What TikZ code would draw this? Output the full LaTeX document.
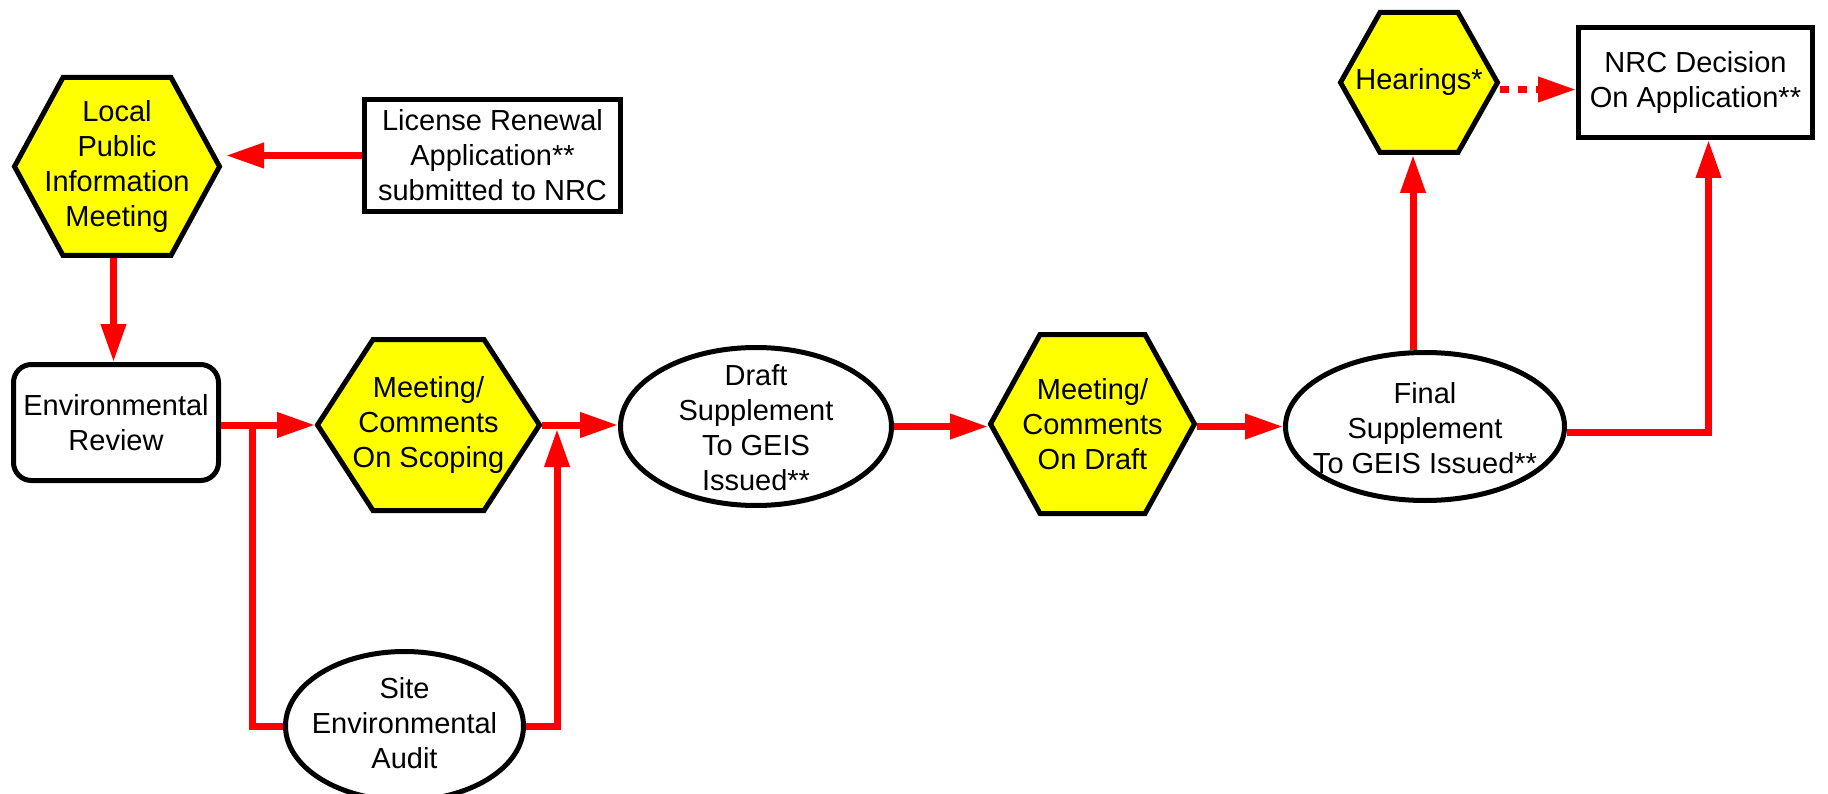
\documentclass[tikz,border=0pt]{standalone}
\usepackage{fontspec}
\setmainfont{Liberation Sans}
\usetikzlibrary{arrows.meta,calc,backgrounds,shapes.geometric}
\definecolor{hexyellow}{RGB}{255,255,0}
\definecolor{linered}{RGB}{255,0,0}
\tikzset{
  txt/.style={font=\fontsize{29}{35}\selectfont, align=center, inner sep=0pt, text=black},
  hexarea/.style={rectangle, draw=none, inner sep=0pt, outer sep=0pt, txt},
  hexline/.style={draw=black, fill=hexyellow, line width=5pt, line join=miter},
  boxnode/.style={rectangle, draw=black, fill=white, line width=5pt, txt},
  ellnode/.style={ellipse, draw=black, fill=white, line width=5pt, inner sep=0pt},
  redline/.style={draw=linered, line width=7pt, line join=miter},
  redarrow/.style={redline, -{Triangle[length=38pt,width=24pt]}},
  reddots/.style={redarrow, dash pattern=on 9pt off 9pt}
}
\newcommand\drawhex[2]{%
  \begin{scope}[on background layer]
  \draw[hexline] ([xshift=2.5pt]#1.west) -- ([xshift=#2pt,yshift=-2.5pt]#1.north west)
    -- ([xshift=-#2pt,yshift=-2.5pt]#1.north east) -- ([xshift=-2.5pt]#1.east)
    -- ([xshift=-#2pt,yshift=2.5pt]#1.south east) -- ([xshift=#2pt,yshift=2.5pt]#1.south west) -- cycle;
  \end{scope}}
\begin{document}
\begin{tikzpicture}[x=1pt,y=-1pt]
\useasboundingbox (0,0) rectangle (1828,794);
\begin{scope}[on background layer]
\fill[white] (0,0) rectangle (1828,794);
\end{scope}

% hexagon nodes
\node[hexarea, minimum width=210pt, minimum height=183pt] (lpim) at (117,166.5) {Local\\Public\\Information\\Meeting};
\drawhex{lpim}{51}
\node[hexarea, minimum width=227pt, minimum height=176pt] (scop) at (428.5,425) {Meeting/\\Comments\\On Scoping};
\drawhex{scop}{58}
\node[hexarea, minimum width=209pt, minimum height=184pt] (mdraft) at (1092.5,424) {Meeting/\\Comments\\On Draft};
\drawhex{mdraft}{52}
\node[hexarea, minimum width=162pt, minimum height=145pt] (hear) at (1419,82.5) {Hearings*};
\drawhex{hear}{42}

% boxes
\node[boxnode, minimum width=256pt, minimum height=112pt] (lic) at (492.5,155.5) {License Renewal\\Application**\\submitted to NRC};
\node[boxnode, minimum width=234pt, minimum height=110pt] (nrc) at (1695.5,82.5) {NRC Decision\\On Application**};
\node[boxnode, rounded corners=18pt, minimum width=205pt, minimum height=116pt] (er) at (116,422.5) {Environmental\\Review};

% ellipses
\node[ellnode, minimum width=271pt, minimum height=158pt] (draft) at (756,426.5) {};
\node[txt] (draftt) at (756,428) {Draft\\Supplement\\To GEIS\\Issued**};
\node[ellnode, minimum width=279pt, minimum height=148pt] (final) at (1425,426.5) {};
\node[txt] (finalt) at (1425,428) {Final\\Supplement\\To GEIS Issued**};
\node[ellnode, minimum width=238pt, minimum height=149pt] (site) at (404.5,726) {};
\node[txt] (sitet) at (404.5,723) {Site\\Environmental\\Audit};

% connectors
\draw[redarrow] (lic.west) -- ([xshift=4pt]lic.west -| lpim.east);
\draw[redarrow] ([xshift=-3.5pt]lpim.south) -- ([xshift=-3.5pt]lpim.south |- er.north);
\draw[redarrow] (scop.west -| er.east) -- (scop.west);
\coordinate (b1) at (252,425);
\draw[redline] (b1) |- (site.west);
\coordinate (b2) at (557,429);
\draw[redarrow] (site.east) -| (b2);
\draw[redarrow] (scop.east) -- (scop.east -| draft.west);
\draw[redarrow] (draft.east) -- (draft.east -| mdraft.west);
\draw[redarrow] (mdraft.east |- final.west) -- (final.west);
\coordinate (hx) at ([xshift=-6pt]hear.south);
\draw[redarrow] (hx |- final.north) -- (hx);
\draw[redarrow] ([yshift=-6pt]final.east) -| ([xshift=13pt]nrc.south);
\draw[reddots] ([yshift=-7pt]hear.east) -- ([yshift=-7pt]hear.east -| nrc.west);
\end{tikzpicture}
\end{document}
